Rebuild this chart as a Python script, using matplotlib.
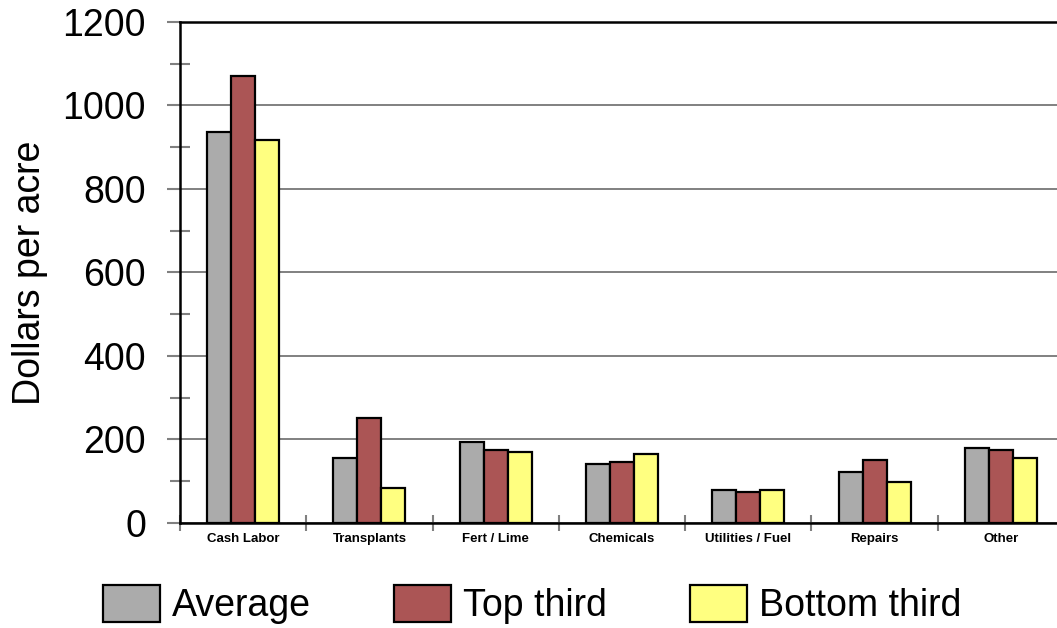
import matplotlib
matplotlib.use('Agg')
import matplotlib.pyplot as plt
import numpy as np
from matplotlib.ticker import MultipleLocator

plt.rcParams['font.family'] = ['Liberation Sans', 'DejaVu Sans']

CATEGORIES = ['Cash Labor', 'Transplants', 'Fert / Lime', 'Chemicals',
              'Utilities / Fuel', 'Repairs', 'Other']
AVERAGE = [937, 156, 195, 142, 80, 123, 180]
TOP_THIRD = [1071, 252, 175, 147, 75, 152, 176]
BOTTOM_THIRD = [917, 85, 171, 166, 80, 99, 156]
SERIES_NAMES = ['Average', 'Top third', 'Bottom third']

COLORS = ['#ababab', '#ab5555', '#ffff80']

fig = plt.figure(figsize=(10.57, 6.28), dpi=100)
ax = fig.add_axes([0.1703, 0.1672, 0.8363, 0.7978])

x = np.arange(len(CATEGORIES))
width = 0.19
handles = []
for i, (vals, color) in enumerate(zip([AVERAGE, TOP_THIRD, BOTTOM_THIRD], COLORS)):
    bars = ax.bar(x + (i - 1) * width, vals, width, color=color,
                  edgecolor='black', linewidth=1.6, zorder=3)
    handles.append(bars)

ax.set_xlim(-0.5, len(CATEGORIES) - 0.5)
ax.set_ylim(0, 1200)

# y axis: gray major ticks outside, minor ticks crossing the spine
ax.yaxis.set_major_locator(MultipleLocator(200))
ax.yaxis.set_minor_locator(MultipleLocator(100))
ax.tick_params(axis='y', which='major', direction='out', length=9.5,
               width=1.5, color='#808080', labelsize=27, pad=15)
ax.tick_params(axis='y', which='minor', direction='inout', length=14,
               width=1.5, color='#808080')
ax.yaxis.grid(True, which='major', color='#808080', linewidth=1.4, zorder=0)

# x axis: category boundary ticks, labels centred between them
ax.set_xticks(x)
ax.set_xticklabels(CATEGORIES, fontsize=9.5, fontweight='bold')
ax.set_xticks(np.arange(len(CATEGORIES) + 1) - 0.5, minor=True)
ax.tick_params(axis='x', which='major', length=0, pad=7)
ax.tick_params(axis='x', which='minor', direction='inout', length=12,
               width=1.5, color='#808080')

for side in ['left', 'bottom', 'top']:
    ax.spines[side].set_color('black')
    ax.spines[side].set_linewidth(1.8)
ax.spines['right'].set_visible(False)
ax.set_axisbelow(True)

ax.set_ylabel('Dollars per acre', fontsize=27)
ax.yaxis.set_label_coords(-0.149, 0.5)

fig.legend(handles, SERIES_NAMES, loc='center left',
           bbox_to_anchor=(103 / 1057, 23.5 / 628), ncol=3, frameon=False,
           fontsize=27, handlelength=1.52, handleheight=1.15,
           handletextpad=0.33, columnspacing=2.2, borderpad=0,
           borderaxespad=0)

fig.savefig('out.png', dpi=100)
